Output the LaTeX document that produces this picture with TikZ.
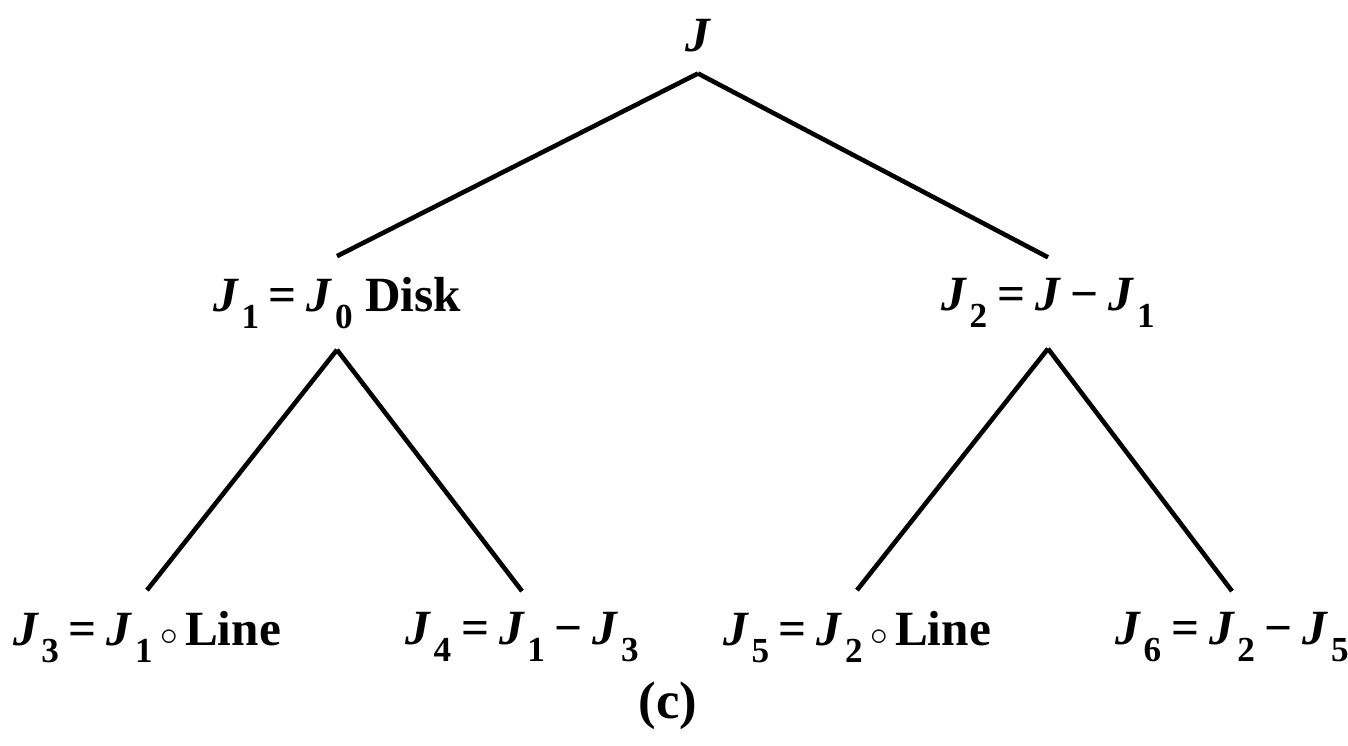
\documentclass[tikz,border=0pt]{standalone}
\usepackage{fontspec}
\setmainfont{Liberation Serif}
\usetikzlibrary{positioning}

\newcommand{\Jsub}[1]{\textit{J}\kern0.05em\raisebox{-0.75ex}{\fontsize{10}{11}\selectfont #1}}
\newcommand{\eqs}{\kern0.2em=\kern0.2em}
\newcommand{\mns}{\kern0.2em−\kern0.2em}
\newcommand{\ring}{\kern0.15em$\scriptstyle\circ$\kern0.15em}

\begin{document}
\begin{tikzpicture}[
  x=0.01cm, y=-0.01cm,
  font=\fontsize{14}{17}\selectfont\bfseries,
  edge/.style={line width=1.3pt},
  lbl/.style={inner sep=0pt, outer sep=6pt},
]
\useasboundingbox (0,0) rectangle (1348,746);

%% root
\node[lbl] (root) at (698,36) {\textit{J}};

%% first split
\node[lbl] (disk) at (337,303) {\Jsub{1}\eqs\Jsub{0} Disk};
\node[lbl] (rest) at (1048,303) {\Jsub{2}\eqs\textit{J}\mns\Jsub{1}};

%% second split
\node[lbl] (lineA) at (147,637) {\Jsub{3}\eqs\Jsub{1}\ring Line};
\node[lbl] (restA) at (522,637) {\Jsub{4}\eqs\Jsub{1}\mns\Jsub{3}};
\node[lbl] (lineB) at (857,637) {\Jsub{5}\eqs\Jsub{2}\ring Line};
\node[lbl] (restB) at (1232,637) {\Jsub{6}\eqs\Jsub{2}\mns\Jsub{5}};

%% caption
\node (cap) at (668,706) {\fontsize{15}{18}\selectfont(c)};

%% edges
\draw[edge] (root.south) -- (disk.north);
\draw[edge] (root.south) -- (rest.north);
\draw[edge] (disk.south) -- (lineA.north);
\draw[edge] (disk.south) -- (restA.north);
\draw[edge] (rest.south) -- (lineB.north);
\draw[edge] (rest.south) -- (restB.north);

\end{tikzpicture}
\end{document}
